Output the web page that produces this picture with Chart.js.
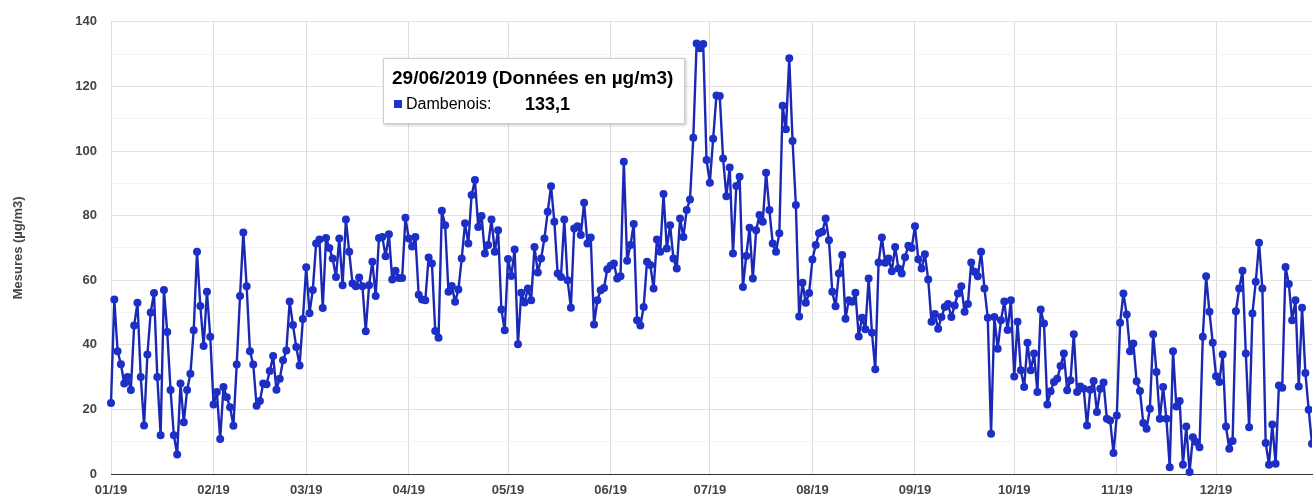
<!DOCTYPE html>
<html><head><meta charset="utf-8">
<script src="https://cdn.jsdelivr.net/npm/chart.js@4.4.1/dist/chart.umd.min.js"></script>
<style>
html,body{margin:0;padding:0;background:#fff;}
#wrap{position:relative;width:1316px;height:498px;overflow:hidden;}
canvas{display:block;}
#tip{position:absolute;left:383px;top:58px;width:300px;height:64px;background:#fff;border:1px solid #cfcfcf;box-shadow:1px 1px 3px rgba(0,0,0,0.25);font-family:"Liberation Sans",Arial,sans-serif;color:#000;}
#tip .t1{position:absolute;left:8px;top:8px;font-weight:bold;font-size:19px;white-space:nowrap;}
#tip .sq{position:absolute;left:10px;top:41px;width:8px;height:8px;background:#1d33cc;}
#tip .t2{position:absolute;left:22px;top:36px;font-size:16px;white-space:nowrap;}
#tip .v{position:absolute;left:141px;top:35px;font-size:18px;font-weight:bold;white-space:nowrap;}
</style></head><body>
<div id="wrap"><canvas id="c" width="1316" height="498"></canvas>
<div id="tip"><div class="t1">29/06/2019 (Données en µg/m3)</div><div class="sq"></div><div class="t2">Dambenois:</div><div class="v">133,1</div></div>
</div>
<script>
// Daily values (µg/m3), 2019, starting 1 January
const jan = [22,54,38,34,28,30,26,46,53,30,15,37,50,56,30,12,57,44,26,12,6,28,16,26,31,44.5,68.8,52,39.6,56.4,42.5];
const feb = [21.5,25.4,10.8,26.9,23.8,20.7,14.9,33.9,55.1,74.8,58.1,38,33.9,21.1,22.6,28,27.8,31.9,36.5,26.1,29.5,35.2,38.2,53.4,46.1,39.3,33.6,48];
const mar = [64,49.8,57,71.4,72.6,51.4,73.1,70,66.7,61,72.9,58.4,78.8,68.8,59,58.1,60.8,58.1,44.2,58.4,65.7,55.1,73.1,73.4,67.4,74.2,60.2,62.9,60.7,60.7,79.3];
const apr = [72.9,70.4,73.4,55.5,54,53.8,67,65.2,44.3,42.2,81.5,77,56.4,58.2,53.3,57.1,66.7,77.6,71.4,86.4,91,76.5,79.9,68.3,70.9,78.8,68.8,75.5,50.9,44.5];
const may = [66.6,61.3,69.5,40.2,56.1,53.1,57.4,53.8,70.3,62.4,66.7,72.9,81.2,89.1,78.1,62.1,61,78.8,60,51.5,76,76.7,74,84,71.4,73.2,46.3,53.8,56.9,57.6,63.4];
const jun = [64.5,65.2,60.5,61.2,96.7,66,70.9,77.4,47.6,46,51.7,65.7,64.7,57.4,72.6,68.8,86.7,69.8,77,66.7,63.6,79.1,73.4,81.7,85,104.1,133.3,131.8,133.1,97.2];
const jul = [90.2,103.8,117.2,117,97.7,86,94.9,68.3,89.2,92,57.9,67.5,76.2,60.5,75.5,80.2,78.1,93.3,81.7,71.4,68.8,74.5,114,106.7,128.7,103.1,83.3,48.8,59.2,53,56];
const aug = [66.4,70.9,74.5,75,79.1,72.4,56.4,51.9,62.1,67.8,48.1,53.8,53.3,56.1,42.6,48.4,44.8,60.5,43.7,32.4,65.5,73.2,65.4,66.7,62.8,70.3,63.6,62.1,67.1,70.7,70];
const sep = [76.7,66.5,63.6,68,60.2,47.1,49.5,45,48.6,51.7,52.6,48.6,52.2,55.9,58.1,50.2,52.6,65.5,62.6,61.2,68.8,57.4,48.4,12.5,48.6,38.8,47.6,53.4,44.6,53.8];
const oct = [30.2,47.1,32.1,26.9,40.6,32.1,37.3,25.4,50.9,46.6,21.5,25.6,28.5,29.5,33.4,37.3,25.9,29,43.3,25.4,27.1,26.4,15,26.1,28.8,19.2,26.4,28.3,17.1,16.6,6.5];
const nov = [18.1,46.8,55.9,49.4,38,40.4,28.7,25.7,15.8,14,20.2,43.3,31.6,17.1,26.9,17.1,2.1,38,20.9,22.6,2.9,14.7,0.6,11.4,9.9,8.3,42.5,61.2,50.2,40.6];
const dec = [30.3,28.5,37,14.7,7.8,10.2,50.4,57.4,62.9,37.3,14.5,49.7,59.5,71.6,57.4,9.6,2.9,15.3,3.2,27.4,26.7,64.1,58.8,47.6,53.8,27.1,51.5,31.3,19.9,9.4];

const monthLabels = ['01/19','02/19','03/19','04/19','05/19','06/19','07/19','08/19','09/19','10/19','11/19','12/19'];
const monthData = [jan,feb,mar,apr,may,jun,jul,aug,sep,oct,nov,dec];
const monthStarts = [];
const values = [];
monthData.forEach(m => { monthStarts.push(values.length); values.push(...m); });
const points = values.map((v,i) => ({x:i, y:v}));

const FONT = {family:'"Liberation Sans", Arial, sans-serif', size:13, weight:'bold'};

new Chart(document.getElementById('c'), {
  type:'line',
  data:{datasets:[{
    label:'Dambenois',
    data:points,
    borderColor:'#1a28b4',
    borderWidth:2.4,
    borderJoinStyle:'round',
    pointRadius:4,
    pointBackgroundColor:'#1c30c8',
    pointBorderWidth:0,
    tension:0,
    clip:{left:8,top:8,bottom:8,right:0}
  }]},
  options:{
    responsive:false,
    animation:false,
    layout:{padding:{top:21,right:0,left:0,bottom:0}},
    plugins:{legend:{display:false},tooltip:{enabled:false}},
    scales:{
      x:{
        type:'linear', min:0, max:363,
        afterBuildTicks: s => { s.ticks = monthStarts.map(v => ({value:v})); },
        afterFit: s => { s.height = 24; },
        ticks:{
          callback: v => monthLabels[monthStarts.indexOf(v)],
          font:FONT, color:'#444', padding:9, maxRotation:0, autoSkip:false
        },
        grid:{color:'#dcdcdc', drawTicks:false},
        border:{color:'#333', width:1}
      },
      y:{
        min:0, max:140,
        afterFit: s => { s.width = 111; },
        ticks:{
          stepSize:10,
          callback: v => (v % 20 === 0 ? v : ''),
          font:FONT, color:'#444', padding:14
        },
        grid:{color: c => (c.tick && c.tick.value % 20 === 0 ? '#e2e2e2' : '#f3f3f3'), drawTicks:false},
        border:{display:false},
        title:{display:true, text:'Mesures (µg/m3)', font:FONT, color:'#444', padding:{top:11,bottom:0}}
      }
    }
  }
});
</script>
</body></html>
